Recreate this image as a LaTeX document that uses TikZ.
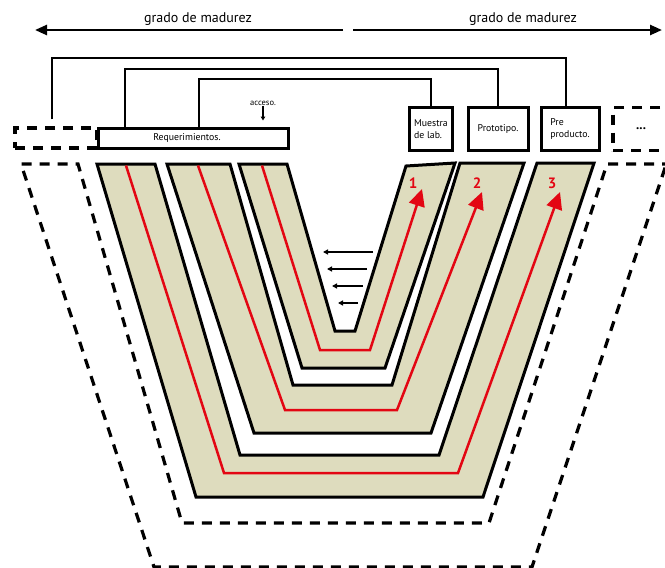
\documentclass[tikz,border=0pt]{standalone}
\usepackage{fontspec}
\setmainfont{PT Sans}
\usetikzlibrary{arrows.meta}
\definecolor{bandtan}{RGB}{222,220,190}
\definecolor{pathred}{RGB}{227,6,19}
\begin{document}
\begin{tikzpicture}[x=1pt,y=-1pt,
  band/.style={fill=bandtan,draw=black,line width=3pt,line join=miter},
  route/.style={draw=pathred,line width=2.5pt,line join=miter,
    -{Triangle[length=17pt,width=16pt]}},
  ghost/.style={draw=black,line width=3.2pt,dash pattern=on 10pt off 8pt},
  ghostbox/.style={ghost,inner sep=0pt},
  stage/.style={draw=black,line width=3pt,inner sep=0pt,align=left,
    font=\fontsize{9.8}{12.5}\selectfont},
  conn/.style={draw=black,line width=2pt},
  scale arrow/.style={draw=black,line width=2.5pt,-{Triangle[length=12pt,width=10pt]}},
  push/.style={draw=black,line width=1.5pt,-{Triangle[length=5pt,width=5pt]}},
  heading/.style={font=\fontsize{14}{16}\selectfont,inner sep=1pt},
  num/.style={text=pathred,font=\fontsize{15}{16}\selectfont\bfseries,inner sep=0pt}]
\clip (0,0) rectangle (665,568);

% maturity scale on top
\node[heading] (hl) at (198,19) {grado de madurez};
\node[heading] (hr) at (523,19) {grado de madurez};
\coordinate (lsA) at (343,30);
\coordinate (lsB) at (35,30);
\coordinate (rsA) at (353,30);
\coordinate (rsB) at (662,30);
\draw[scale arrow] (lsA) -- (lsB);
\draw[scale arrow] (rsA) -- (rsB);

% outer dashed band (further stages)
\draw[ghost,line join=miter] (672,164) -- (607,164) -- (489,523) -- (182,523)
  -- (78,164) -- (21,164) -- (154,567) -- (532,567) -- (667,162);

% the three development bands
\draw[band] (97,164) -- (155,164) -- (240,455) -- (439,455) -- (537,163)
  -- (594,163) -- (483,497) -- (196,497) -- cycle;
\draw[band] (167,164) -- (230,164) -- (293,385) -- (392,385) -- (460,163)
  -- (524,163) -- (431,433) -- (254,433) -- cycle;
\draw[band] (239,164) -- (287,164) -- (335,331) -- (355,331) -- (406,166)
  -- (455,163) -- (385,368) -- (302,368) -- cycle;

% red routes through each band
\draw[route] (126,165.5) -- (224,473) -- (458,473) -- (560,192);
\draw[route] (198,165.5) -- (285,410) -- (397,410) -- (482,192);
\draw[route] (262,165.5) -- (320,350) -- (370,350) -- (422,189);
\node[num] (n1) at (413,183) {1};
\node[num] (n2) at (477,183) {2};
\node[num] (n3) at (552,183) {3};

% arrows inside the innermost band
\coordinate (p1a) at (373,252); \coordinate (p1b) at (323,252);
\coordinate (p2a) at (367,269); \coordinate (p2b) at (327,269);
\coordinate (p3a) at (363,286); \coordinate (p3b) at (332,286);
\coordinate (p4a) at (358,303); \coordinate (p4b) at (338,303);
\draw[push] (p1a) -- (p1b);
\draw[push] (p2a) -- (p2b);
\draw[push] (p3a) -- (p3b);
\draw[push] (p4a) -- (p4b);

% stage boxes
\node[ghostbox,minimum width=82pt,minimum height=20pt] (dleft) at (56,138) {};
\node[stage,minimum width=190pt,minimum height=20pt] (req) at (193,138)
  {Requerimientos.\hspace*{12pt}};
\node[stage,minimum width=43pt,minimum height=43pt] (muestra) at (431,129)
  {Muestra\\de lab.};
\node[stage,minimum width=60pt,minimum height=43pt] (proto) at (498,129)
  {Prototipo.};
\node[stage,minimum width=58pt,minimum height=43pt] (pre) at (570,129)
  {Pre\\producto.};
\node[ghostbox,minimum width=56pt,minimum height=43pt,
  font=\fontsize{13}{14}\selectfont\bfseries] (dright) at (641,129) {...};

% access marker
\node[font=\fontsize{8.5}{10}\selectfont,inner sep=1pt] (acc) at (263,103) {acceso.};
\draw[black,line width=1.2pt,-{Triangle[length=4pt,width=4.5pt]},shorten >=6pt]
  (acc.south) -- (acc.south |- req.north);

% connectors between requirement level and stages
\coordinate (levA) at (0,58);
\coordinate (levB) at (0,69);
\coordinate (levC) at (0,79);
\coordinate (aS) at ([xshift=-4pt]dleft.north);
\coordinate (aE) at ([xshift=-4pt]pre.north);
\coordinate (bS) at ([xshift=28pt]req.north west);
\coordinate (cS) at ([xshift=6pt]req.north);
\draw[conn,shorten <=7pt] (aS) -- (aS |- levA) -| (aE);
\draw[conn] (bS) -- (bS |- levB) -| (proto.north);
\draw[conn] (cS) -- (cS |- levC) -| (muestra.north);
\end{tikzpicture}
\end{document}
